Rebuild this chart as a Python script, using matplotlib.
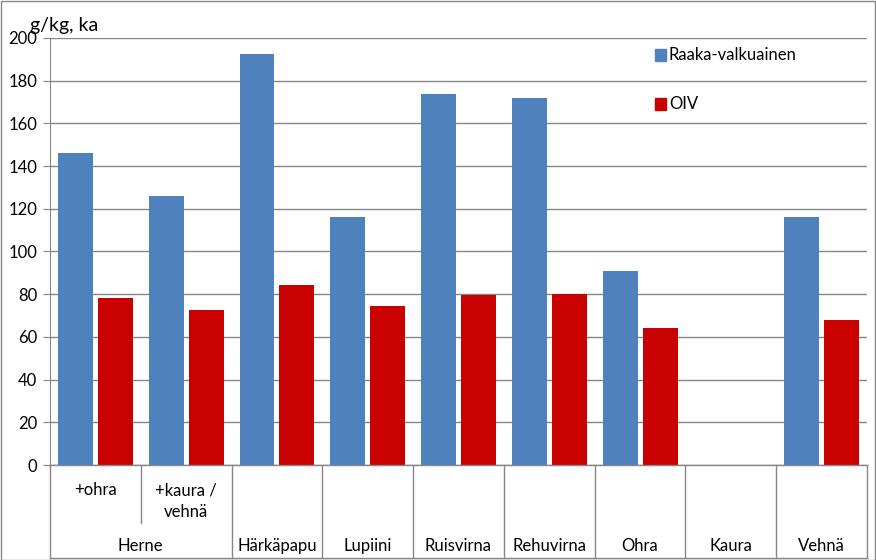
import numpy as np
import matplotlib.pyplot as plt
from matplotlib.patches import Rectangle

# data
sub_labels = ['+ohra', '+kaura /\nvehnä']
main_labels = ['Herne', 'Härkäpapu', 'Lupiini', 'Ruisvirna', 'Rehuvirna', 'Ohra', 'Kaura', 'Vehnä']
main_spans = [2, 1, 1, 1, 1, 1, 1, 1]
raaka = [146, 126, 192.5, 116.2, 173.8, 172, 91, np.nan, 116.2]
oiv = [78.2, 72.6, 84.3, 74.5, 79.6, 80.1, 64.2, np.nan, 67.9]
yticks = [0, 20, 40, 60, 80, 100, 120, 140, 160, 180, 200]

blue = '#4F81BD'
red = '#C80000'
gray = '#868686'
plt.rcParams['font.family'] = ['Lato', 'DejaVu Sans']

fig = plt.figure(figsize=(8.76, 5.6), dpi=100)
W, H = 876, 560
ax = fig.add_axes([50 / W, (H - 465) / H, (867 - 50) / W, (465 - 38) / H])

n = len(raaka)
x = np.arange(n)
bw = 0.385
ax.bar(x + 0.088, raaka, bw, align='edge', color=blue, label='Raaka-valkuainen', zorder=3)
ax.bar(x + 0.528, oiv, bw, align='edge', color=red, label='OIV', zorder=3)

ax.set_xlim(0, n)
ax.set_ylim(0, 200)
ax.set_yticks(yticks)
ax.set_yticklabels([str(v) for v in yticks], fontsize=12)
ax.tick_params(axis='y', length=5, color=gray, pad=4)
ax.tick_params(axis='x', length=0, labelbottom=False)
ax.grid(axis='y', color=gray, lw=1, zorder=0)
for s in ['top', 'right', 'bottom']:
    ax.spines[s].set_visible(False)
ax.spines['left'].set_color(gray)
ax.axhline(0, color=gray, lw=1, zorder=4, clip_on=False)

# two-level category axis
tr = ax.get_xaxis_transform()
bottom = -0.218
ax.plot([0, 0], [0, bottom], color=gray, lw=1, transform=tr, clip_on=False)
edge = 0
for lab, span in zip(main_labels, main_spans):
    ax.text(edge + span / 2, -0.19, lab, transform=tr, ha='center', va='center', fontsize=12)
    edge += span
    ax.plot([edge, edge], [0, bottom], color=gray, lw=1, transform=tr, clip_on=False)
ax.plot([1, 1], [0, -0.136], color=gray, lw=1, transform=tr, clip_on=False)
ax.text(0.5, -0.059, sub_labels[0], transform=tr, ha='center', va='center', fontsize=12)
ax.text(1.5, -0.04, sub_labels[1], transform=tr, ha='center', va='top', fontsize=12,
        linespacing=1.45)
ax.plot([0, n], [bottom, bottom], color=gray, lw=1, transform=tr, clip_on=False)

fig.text(30 / W, 1 - 25 / H, 'g/kg, ka', fontsize=14, ha='left', va='center')

# legend
fig.patches.append(Rectangle((655 / W, 1 - 60.5 / H), 11 / W, 11 / H, color=blue, transform=fig.transFigure))
fig.text(669 / W, 1 - 55 / H, 'Raaka-valkuainen', fontsize=12, va='center')
fig.patches.append(Rectangle((655 / W, 1 - 109.5 / H), 11 / W, 11 / H, color=red, transform=fig.transFigure))
fig.text(669 / W, 1 - 104 / H, 'OIV', fontsize=12, va='center')

# outer border
fig.patches.append(Rectangle((0.5 / W, 0.5 / H), 1 - 1.5 / W, 1 - 1.5 / H, fill=False,
                             edgecolor=gray, lw=1, transform=fig.transFigure))

fig.savefig('out.png', dpi=100)
